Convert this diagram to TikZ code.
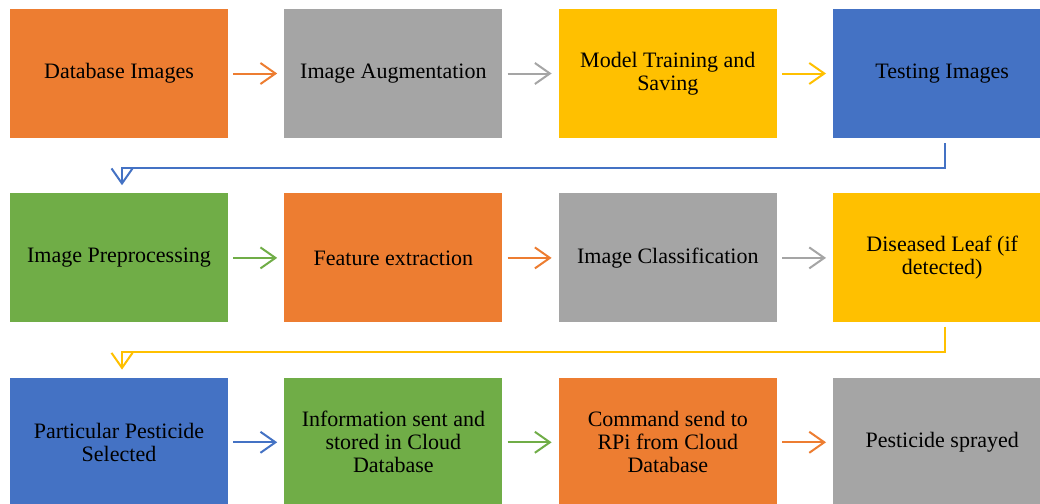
\documentclass[tikz,border=0pt]{standalone}
\usepackage{fontspec}
\setmainfont{Liberation Serif}
\usetikzlibrary{positioning,arrows.meta}
\definecolor{boxorange}{HTML}{ED7D31}
\definecolor{boxgray}{HTML}{A5A5A5}
\definecolor{boxgold}{HTML}{FFC000}
\definecolor{boxblue}{HTML}{4472C4}
\definecolor{boxgreen}{HTML}{70AD47}
\begin{document}
\begin{tikzpicture}[x=1pt, y=1pt, node distance={56pt},
		main/.style={rectangle, minimum width=218pt, minimum height=129pt, align=center, inner sep=2pt,
			font=\fontsize{22}{23}\selectfont},
		link/.style={line width=2pt, -{Straight Barb[length=15pt,width=21pt,line width=2pt]}, shorten <=5pt, shorten >=7pt}]
		\clip (0,0) rectangle (1040,-503);
		\fill[white] (0,0) rectangle (1040,-503);

		% first row
		\node[main, fill=boxorange] (db) at (119,-73.5) {Database Images};
		\node[main, fill=boxgray] (aug) [right = of db] {Image Augmentation};
		\node[main, fill=boxgold] (train) [right = of aug] {Model Training and\\Saving};
		\node[main, fill=boxblue] (test) [right = of train] {Testing Images};

		% second row
		\node[main, fill=boxgreen] (pre) [below = 55pt of db] {Image Preprocessing};
		\node[main, fill=boxorange] (feat) [right = of pre] {Feature extraction};
		\node[main, fill=boxgray] (cls) [right = of feat] {Image Classification};
		\node[main, fill=boxgold] (leaf) [right = of cls] {Diseased Leaf (if\\detected)};

		% third row
		\node[main, fill=boxblue] (pest) [below = 55pt of pre] {Particular Pesticide\\Selected};
		\node[main, fill=boxgreen] (info) [right = of pest] {Information sent and\\stored in Cloud\\Database};
		\node[main, fill=boxorange] (cmd) [right = of info] {Command send to\\RPi from Cloud\\Database};
		\node[main, fill=boxgray] (spray) [right = of cmd] {Pesticide sprayed};

		\draw[link, boxorange] (db) -- (aug);
		\draw[link, boxgray] (aug) -- (train);
		\draw[link, boxgold] (train) -- (test);
		\draw[link, boxblue, shorten >=8pt] ([xshift=3pt]test.south) -- ++(0,-30) -| ([xshift=3pt]pre.north);

		\draw[link, boxgreen] (pre) -- (feat);
		\draw[link, boxorange] (feat) -- (cls);
		\draw[link, boxgray] (cls) -- (leaf);
		\draw[link, boxgold, shorten <=4pt, shorten >=8pt] ([xshift=3pt]leaf.south) -- ++(0,-29) -| ([xshift=3pt]pest.north);

		\draw[link, boxblue] (pest) -- (info);
		\draw[link, boxgreen] (info) -- (cmd);
		\draw[link, boxorange] (cmd) -- (spray);
	\end{tikzpicture}
\end{document}
